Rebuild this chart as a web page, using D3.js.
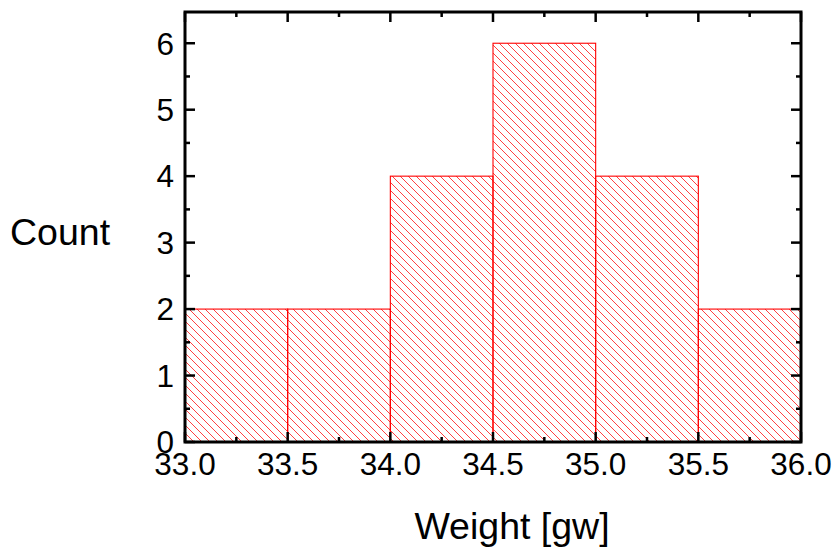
<!DOCTYPE html>
<html>
<head>
<meta charset="utf-8">
<script src="https://cdn.jsdelivr.net/npm/d3@7"></script>
<style>
  html, body { margin: 0; padding: 0; background: #fff; }
  svg { display: block; }
  text { font-family: "Liberation Sans", Arial, sans-serif; fill: #000; }
</style>
</head>
<body>
<svg id="chart" width="834" height="548"></svg>
<script>
// Data
const binStarts = [33.0, 33.5, 34.0, 34.5, 35.0, 35.5];
const binWidth = 0.5;
const counts = [2, 2, 4, 6, 4, 2];
const xTicks = [33.0, 33.5, 34.0, 34.5, 35.0, 35.5, 36.0];
const yTicks = [0, 1, 2, 3, 4, 5, 6];
const xLabel = "Weight [gw]";
const yLabel = "Count";

const svg = d3.select("#chart");
const m = { left: 185, right: 801, top: 12, bottom: 442 };

const x = d3.scaleLinear().domain([33, 36]).range([m.left, m.right]);
const y = d3.scaleLinear().domain([0, 6.47]).range([m.bottom, m.top]);

// hatch pattern
const defs = svg.append("defs");
const pat = defs.append("pattern")
  .attr("id", "hatch")
  .attr("patternUnits", "userSpaceOnUse")
  .attr("width", 8).attr("height", 8);
pat.append("path")
  .attr("d", "M-2,-2 L10,10 M-2,6 L2,10 M6,-2 L10,2")
  .attr("stroke", "#ff2020")
  .attr("stroke-width", 1)
  .attr("stroke-opacity", 0.85)
  .attr("fill", "none");

// bars
svg.append("g").selectAll("rect")
  .data(binStarts)
  .join("rect")
  .attr("x", (d) => x(d))
  .attr("y", (d, i) => y(counts[i]))
  .attr("width", (d) => x(d + binWidth) - x(d))
  .attr("height", (d, i) => y(0) - y(counts[i]))
  .attr("fill", "url(#hatch)")
  .attr("stroke", "#ff0000")
  .attr("stroke-width", 1.1);

// ticks (inward on all four sides)
const xMinor = d3.range(33.25, 36, 0.5);
const yMinor = d3.range(0.5, 6.47, 1);
const majLen = 10, minLen = 5, tw = 2.5;

const axes = svg.append("g").attr("stroke", "#000").attr("stroke-width", tw);
const xAll = xTicks.map(v => ({ v, len: majLen })).concat(xMinor.map(v => ({ v, len: minLen })));
axes.selectAll(".xb").data(xAll).join("line")
  .attr("x1", d => x(d.v)).attr("x2", d => x(d.v))
  .attr("y1", m.bottom).attr("y2", d => m.bottom - d.len);
axes.selectAll(".xt").data(xAll).join("line")
  .attr("x1", d => x(d.v)).attr("x2", d => x(d.v))
  .attr("y1", m.top).attr("y2", d => m.top + d.len);
const yAll = yTicks.map(v => ({ v, len: majLen })).concat(yMinor.map(v => ({ v, len: minLen })));
axes.selectAll(".yl").data(yAll).join("line")
  .attr("y1", d => y(d.v)).attr("y2", d => y(d.v))
  .attr("x1", m.left).attr("x2", d => m.left + d.len);
axes.selectAll(".yr").data(yAll).join("line")
  .attr("y1", d => y(d.v)).attr("y2", d => y(d.v))
  .attr("x1", m.right).attr("x2", d => m.right - d.len);

// frame
svg.append("rect")
  .attr("x", m.left).attr("y", m.top)
  .attr("width", m.right - m.left).attr("height", m.bottom - m.top)
  .attr("fill", "none").attr("stroke", "#000").attr("stroke-width", 3);

// tick labels
svg.append("g").selectAll("text").data(xTicks).join("text")
  .attr("x", d => x(d)).attr("y", 475)
  .attr("text-anchor", "middle")
  .attr("font-size", 31.5)
  .text(d => d3.format(".1f")(d));

svg.append("g").selectAll("text").data(yTicks).join("text")
  .attr("x", m.left - 11).attr("y", d => y(d))
  .attr("dy", "0.36em")
  .attr("text-anchor", "end")
  .attr("font-size", 31.5)
  .text(d => d);

// axis titles
svg.append("text")
  .attr("x", 512).attr("y", 539)
  .attr("text-anchor", "middle")
  .attr("font-size", 37.5)
  .text(xLabel);

svg.append("text")
  .attr("x", 10).attr("y", 245)
  .attr("text-anchor", "start")
  .attr("font-size", 37.5)
  .text(yLabel);
</script>
</body>
</html>
